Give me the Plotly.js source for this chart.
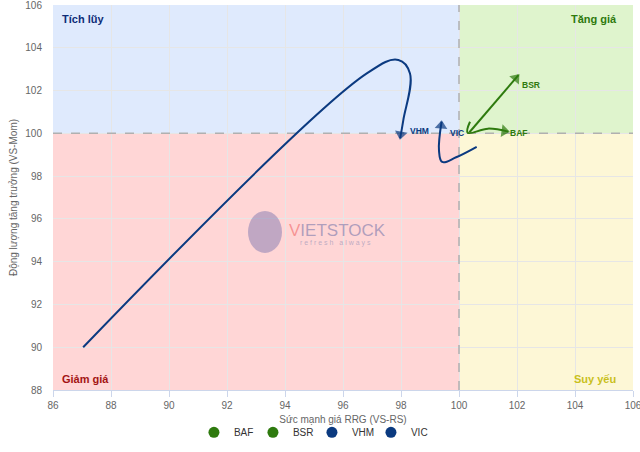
<!DOCTYPE html>
<html>
<head>
<meta charset="utf-8">
<script src="https://cdn.plot.ly/plotly-3.0.1.min.js"></script>
<style>html,body{margin:0;padding:0;background:#fff;}#chart{width:640px;height:452px;}</style>
</head>
<body>
<div id="chart"></div>
<script>
// Series names
const seriesNames = ["BAF", "BSR", "VHM", "VIC"];
// Tail points (RS-Ratio on x, RS-Momentum on y)
const bafX = [100.38, 100.30, 101.00, 101.70];
const bafY = [100.54, 100.03, 100.22, 100.08];
const bsrX = [100.36, 102.05];
const bsrY = [100.05, 102.72];
const vhmX = [87.04, 96.82, 97.91, 98.31, 98.08, 97.97];
const vhmY = [90.00, 102.80, 103.43, 102.80, 100.62, 99.77];
const vicX = [100.61, 99.90, 99.42, 99.31, 99.40];
const vicY = [99.37, 98.88, 98.66, 99.20, 100.54];
// Axis and quadrant settings
const xRange = [86, 106];
const yRange = [88, 106];
const centre = 100;
const quadrantNames = ["Tích lũy", "Tăng giá", "Giảm giá", "Suy yếu"];

const GREEN = "#2e7a0e";
const BLUE = "#0b3a80";
const seriesColors = [GREEN, GREEN, BLUE, BLUE];
const seriesData = [[bafX, bafY], [bsrX, bsrY], [vhmX, vhmY], [vicX, vicY]];
// label offsets in pixels [xshift, yshift]
const labelShift = [[0, -1], [2, -10], [8, 7], [6, -11]];

const traces = [];
seriesData.forEach(function (d, i) {
  const n = d[0].length;
  const sym = d[0].map(function (_, k) { return k === n - 1 ? "triangle-up" : "circle"; });
  const sz = d[0].map(function (_, k) { return k === n - 1 ? 11 : 0; });
  traces.push({
    x: d[0], y: d[1], type: "scatter", mode: "lines+markers",
    line: {color: seriesColors[i], width: 2, shape: "spline", smoothing: 1.1},
    marker: {symbol: sym, size: sz, color: seriesColors[i], angleref: "previous", standoff: 4, line: {width: 0}},
    name: seriesNames[i], legendgroup: seriesNames[i], showlegend: false, hoverinfo: "skip"
  });
});
seriesNames.forEach(function (nm, i) {
  traces.push({
    x: [null], y: [null], type: "scatter", mode: "markers",
    marker: {symbol: "circle", size: 11, color: seriesColors[i]},
    name: nm, legendgroup: nm, showlegend: true
  });
});

const shapes = [
  {type: "rect", xref: "x", yref: "y", x0: xRange[0], x1: centre, y0: centre, y1: yRange[1], fillcolor: "#dfeafd", line: {width: 0}, layer: "below"},
  {type: "rect", xref: "x", yref: "y", x0: centre, x1: xRange[1], y0: centre, y1: yRange[1], fillcolor: "#dff4cd", line: {width: 0}, layer: "below"},
  {type: "rect", xref: "x", yref: "y", x0: xRange[0], x1: centre, y0: yRange[0], y1: centre, fillcolor: "#ffd6d6", line: {width: 0}, layer: "below"},
  {type: "rect", xref: "x", yref: "y", x0: centre, x1: xRange[1], y0: yRange[0], y1: centre, fillcolor: "#fdf7d6", line: {width: 0}, layer: "below"},
  {type: "line", xref: "x", yref: "y", x0: centre, x1: centre, y0: yRange[0], y1: yRange[1], line: {color: "#b0b0b0", width: 1.5, dash: "dash"}, layer: "between"},
  {type: "line", xref: "x", yref: "y", x0: xRange[0], x1: xRange[1], y0: centre, y1: centre, line: {color: "#b0b0b0", width: 1.5, dash: "dash"}, layer: "between"},
  // watermark logo disc
  {type: "circle", xref: "x", yref: "y", xsizemode: "pixel", ysizemode: "pixel", xanchor: 93.31, yanchor: 95.39,
   x0: -17, x1: 17, y0: -21, y1: 21, fillcolor: "rgba(140,130,180,0.55)", line: {width: 0}, layer: "between"}
];

const qFont = {family: "Liberation Sans, Arial, sans-serif", size: 11};
const annotations = [
  {xref: "x", yref: "y", x: xRange[0], y: yRange[1], xanchor: "left", yanchor: "top", xshift: 7, yshift: -6, showarrow: false,
   text: "<b>" + quadrantNames[0] + "</b>", font: Object.assign({}, qFont, {color: "#0d2d78"})},
  {xref: "x", yref: "y", x: xRange[1], y: yRange[1], xanchor: "right", yanchor: "top", xshift: -14, yshift: -6, showarrow: false,
   text: "<b>" + quadrantNames[1] + "</b>", font: Object.assign({}, qFont, {color: "#2e7a0e"})},
  {xref: "x", yref: "y", x: xRange[0], y: yRange[0], xanchor: "left", yanchor: "bottom", xshift: 7, yshift: 3, showarrow: false,
   text: "<b>" + quadrantNames[2] + "</b>", font: Object.assign({}, qFont, {color: "#a31414"})},
  {xref: "x", yref: "y", x: xRange[1], y: yRange[0], xanchor: "right", yanchor: "bottom", xshift: -15, yshift: 3, showarrow: false,
   text: "<b>" + quadrantNames[3] + "</b>", font: Object.assign({}, qFont, {color: "#c9c01c"})},
  // watermark text
  {xref: "x", yref: "y", x: 93.31, y: 95.39, xanchor: "left", yanchor: "middle", xshift: 22, yshift: 1, showarrow: false,
   text: "<span style='color:rgba(240,95,95,0.75)'>V</span>IETSTOCK",
   font: {family: "Liberation Sans, Arial, sans-serif", size: 17, color: "rgba(150,140,180,0.75)"}},
  {xref: "x", yref: "y", x: 93.31, y: 95.39, xanchor: "left", yanchor: "middle", xshift: 33, yshift: -11, showarrow: false,
   text: "r e f r e s h   a l w a y s",
   font: {family: "Liberation Sans, Arial, sans-serif", size: 7, color: "rgba(160,150,185,0.7)"}}
];
seriesData.forEach(function (d, i) {
  const n = d[0].length;
  annotations.push({
    xref: "x", yref: "y", x: d[0][n - 1], y: d[1][n - 1], xanchor: "left", yanchor: "middle",
    xshift: labelShift[i][0], yshift: labelShift[i][1], showarrow: false,
    text: "<b>" + seriesNames[i] + "</b>",
    font: {family: "Liberation Sans, Arial, sans-serif", size: 8.5, color: seriesColors[i]}
  });
});

const tickFont = {family: "Liberation Sans, Arial, sans-serif", size: 10, color: "#666666"};
const layout = {
  width: 640, height: 452,
  margin: {l: 53, r: 7, t: 5, b: 62},
  paper_bgcolor: "#ffffff", plot_bgcolor: "#ffffff",
  font: {family: "Liberation Sans, Arial, sans-serif", size: 10, color: "#333333"},
  xaxis: {
    range: xRange, tick0: 86, dtick: 2, showgrid: true, gridcolor: "#e6e6e6", zeroline: false,
    showline: true, linecolor: "#ccd6eb", ticks: "outside", ticklen: 6, tickcolor: "#ccd6eb",
    tickfont: tickFont, fixedrange: true, ticklabeloverflow: "allow",
    title: {text: "Sức mạnh giá RRG (VS-RS)", font: tickFont, standoff: 5}
  },
  yaxis: {
    range: yRange, tick0: 88, dtick: 2, showgrid: true, gridcolor: "#e6e6e6", zeroline: false,
    showline: false, ticks: "", tickfont: tickFont, ticklabelstandoff: 10, fixedrange: true,
    ticklabeloverflow: "allow",
    title: {text: "Động lượng tăng trưởng (VS-Mom)", font: tickFont, standoff: 5}
  },
  showlegend: true,
  legend: {orientation: "h", x: 0.243, xanchor: "left", y: -0.11, yanchor: "middle",
           font: {family: "Liberation Sans, Arial, sans-serif", size: 10, color: "#333333"},
           itemwidth: 30, entrywidth: 14, bgcolor: "rgba(0,0,0,0)"},
  shapes: shapes,
  annotations: annotations
};

Plotly.newPlot("chart", traces, layout, {displayModeBar: false, staticPlot: true});
</script>
</body>
</html>
